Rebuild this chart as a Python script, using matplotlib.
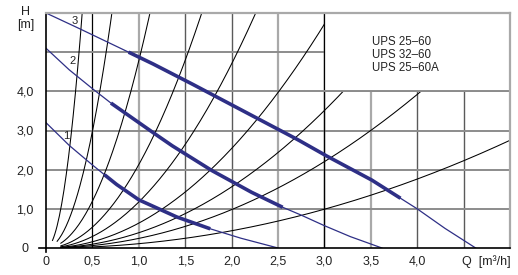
import matplotlib
matplotlib.use('Agg')
import matplotlib.pyplot as plt
import numpy as np
from matplotlib.patches import Rectangle
from matplotlib.lines import Line2D

FONT = ['Liberation Sans Narrow', 'Liberation Sans', 'DejaVu Sans']
plt.rcParams['font.family'] = FONT

# ---------------- data ----------------
q_ticks = [0, 0.5, 1.0, 1.5, 2.0, 2.5, 3.0, 3.5, 4.0]
q_labels = ['0', '0,5', '1,0', '1,5', '2,0', '2,5', '3,0', '3,5', '4,0']
h_ticks = [0, 1, 2, 3, 4]
h_labels = ['0', '1,0', '2,0', '3,0', '4,0']

# system resistance curves H = k * Q^2 (k) and start flow
system_k = [39.4, 11.9, 4.78, 2.13, 1.175, 0.635, 0.39, 0.245, 0.11]
system_q_start = [0.07, 0.12, 0.16, 0.16, 0.16, 0.16, 0.16, 0.16, 0.16]

# pump curves (speed 1, 2, 3)
pump1_q = [0, 0.25, 0.5, 0.75, 1.0, 1.4, 1.77, 2.1, 2.5]
pump1_h = [3.2, 2.62, 2.12, 1.64, 1.23, 0.8, 0.49, 0.25, 0.0]
pump2_q = [0, 0.25, 0.51, 0.7, 1.0, 1.34, 1.77, 2.2, 2.53, 2.74, 3.0, 3.28, 3.62]
pump2_h = [5.1, 4.55, 4.05, 3.7, 3.2, 2.64, 2.0, 1.44, 1.06, 0.85, 0.57, 0.29, 0.0]
pump3_q = [0, 0.37, 0.89, 1.12, 1.5, 1.99, 2.5, 2.71, 3.0, 3.5, 3.8, 4.0, 4.3, 4.63]
pump3_h = [6.0, 5.59, 5.0, 4.74, 4.28, 3.67, 3.03, 2.77, 2.38, 1.75, 1.3, 1.0, 0.5, 0.0]
# operating (thick) ranges in Q
pump_thick = [(0.63, 1.77), (0.70, 2.55), (0.89, 3.82)]
pump_names = ['1', '2', '3']
pump_label_pos = [(0.22, 2.86), (0.29, 4.77), (0.31, 5.80)]

models = ['UPS 25\u201360', 'UPS 32\u201360', 'UPS 25\u201360A']

# ---------------- figure ----------------
W, H = 518, 275
fig = plt.figure(figsize=(W / 100, H / 100), dpi=100)
ax = fig.add_axes([46 / W, 27 / H, 464 / W, 235 / H])
ax.set_xlim(0, 5)
ax.set_ylim(0, 6)

LIGHT = '#a9a9a9'
DARK = '#5a5a5a'
NAVY = '#2e2f86'

# grid
vstyle = {0.5: ('black', 0.9), 1.0: (LIGHT, 1.6), 1.5: (DARK, 1.0), 2.0: (DARK, 1.0),
          2.5: (LIGHT, 1.6), 3.0: ('black', 0.9), 3.5: (LIGHT, 1.6), 4.0: (DARK, 1.0),
          4.5: (DARK, 1.0)}
for x, (c, lw) in vstyle.items():
    ax.axvline(x, color=c, lw=lw, zorder=1)
for y in [1, 2, 3, 4, 5]:
    ax.axhline(y, color='#8c8c8c', lw=1.4, zorder=1)

# system curves
for k, q0 in zip(system_k, system_q_start):
    q = np.linspace(q0, 5, 400)
    ax.plot(q, k * q ** 2, color='black', lw=0.75, zorder=2)

# white legend box
ax.add_patch(Rectangle((3.0, 4.0), 2.0, 2.0, facecolor='white', edgecolor='none', zorder=3))
ax.plot([3.0, 3.0], [0, 6], color='black', lw=0.9, zorder=3.5)
ax.plot([3.0, 5.0], [4.0, 4.0], color='#8c8c8c', lw=1.4, zorder=3.5)
for i, m in enumerate(models):
    ax.text(3.51, 5.26 - i * 0.33, m, fontsize=8.3, va='center', ha='left', zorder=6,
            color='#222222')

# pump curves
pumps = [(pump1_q, pump1_h), (pump2_q, pump2_h), (pump3_q, pump3_h)]
for (pq, ph), (a, b), name, (lx, ly) in zip(pumps, pump_thick, pump_names, pump_label_pos):
    pq = np.array(pq); ph = np.array(ph)
    ax.plot(pq, ph, color=NAVY, lw=0.9, zorder=4)
    qq = np.linspace(a, b, 200)
    ax.plot(qq, np.interp(qq, pq, ph), color=NAVY, lw=2.6, zorder=4,
            solid_capstyle='butt')
    ax.text(lx, ly, name, fontsize=8, ha='center', va='center', zorder=6, color='#222222')

# spines
for s in ['left', 'bottom']:
    ax.spines[s].set_color('black')
    ax.spines[s].set_linewidth(1.2)
    ax.spines[s].set_zorder(6)
for s in ['top', 'right']:
    ax.spines[s].set_color(LIGHT)
    ax.spines[s].set_linewidth(1.6)
    ax.spines[s].set_zorder(6)

# axis overshoot
ax.add_line(Line2D([-7 / 464, 0], [0, 0], transform=ax.transAxes, color='black', lw=1.2,
                   clip_on=False))
ax.add_line(Line2D([0, 0], [-4 / 235, 0], transform=ax.transAxes, color='black', lw=1.2,
                   clip_on=False))

# ticks
ax.set_xticks(q_ticks)
ax.set_xticklabels(q_labels)
ax.set_yticks(h_ticks)
ax.set_yticklabels(h_labels)
ax.tick_params(axis='both', length=0, labelsize=9, colors='#222222')
ax.tick_params(axis='x', pad=5.5)
ax.tick_params(axis='y', pad=15)
for t in ax.get_yticklabels():
    t.set_horizontalalignment('center')

# axis titles
fig.text(26 / W, 1 - 11.7 / H, 'H', fontsize=9, ha='center', va='center', color='#222222')
fig.text(26 / W, 1 - 25 / H, '[m]', fontsize=9, ha='center', va='center', color='#222222')
fig.text(511 / W, 1 - 262 / H, 'Q  [m\u00b3/h]', fontsize=9, ha='right', va='center',
         color='#222222')

fig.savefig('out.png', dpi=100)
